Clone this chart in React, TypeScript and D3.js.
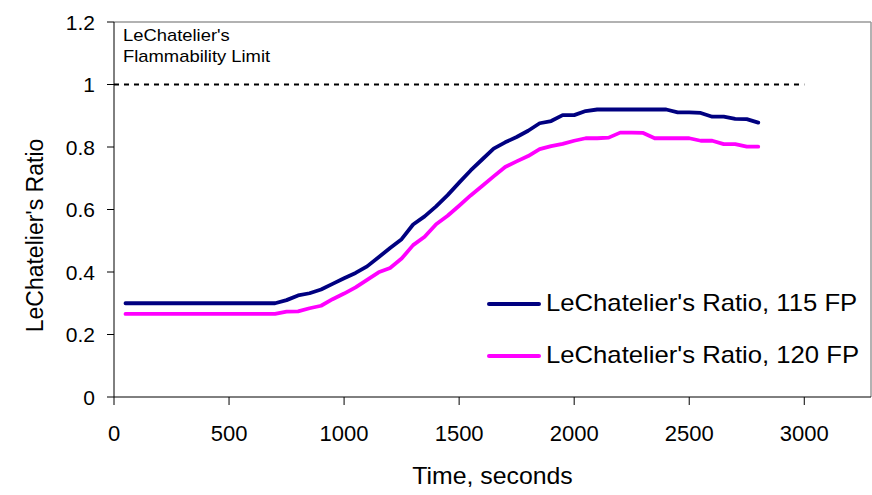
import React from 'react';
import * as d3 from 'd3';

// time in seconds, one reading every 50 s
const times = d3.range(50, 2801, 50);

// LeChatelier's ratio, 115 FP
const ratio115 = [
  0.30, 0.30, 0.30, 0.30, 0.30, 0.30, 0.30, 0.30, 0.30, 0.30, 0.30, 0.30, 0.30, 0.30,
  0.31, 0.325, 0.332, 0.344, 0.362, 0.38, 0.397, 0.418, 0.447, 0.477, 0.505, 0.552,
  0.578, 0.61, 0.646, 0.686, 0.725, 0.76, 0.795, 0.815, 0.832, 0.852, 0.876, 0.883,
  0.902, 0.902, 0.915, 0.92, 0.92, 0.92, 0.92, 0.92, 0.92, 0.92, 0.911, 0.911,
  0.909, 0.897, 0.897, 0.89, 0.889, 0.878,
];

// LeChatelier's ratio, 120 FP
const ratio120 = [
  0.266, 0.266, 0.266, 0.266, 0.266, 0.266, 0.266, 0.266, 0.266, 0.266, 0.266, 0.266, 0.266, 0.266,
  0.273, 0.274, 0.284, 0.292, 0.313, 0.331, 0.351, 0.375, 0.399, 0.413, 0.443, 0.486,
  0.513, 0.553, 0.58, 0.612, 0.645, 0.675, 0.706, 0.736, 0.754, 0.771, 0.793, 0.803,
  0.81, 0.82, 0.828, 0.828, 0.83, 0.846, 0.846, 0.845, 0.828, 0.828, 0.828, 0.828,
  0.82, 0.82, 0.809, 0.809, 0.801, 0.801,
];

const seriesNames = ["LeChatelier's Ratio, 115 FP", "LeChatelier's Ratio, 120 FP"];
const seriesColors = ['#000080', '#ff00ff'];

const limitX = [0, 3000];
const limitY = [1, 1];

const xTicks = [0, 500, 1000, 1500, 2000, 2500, 3000];
const yTicks = [0, 0.2, 0.4, 0.6, 0.8, 1, 1.2];

const W = 872;
const H = 495;
const left = 114;
const right = 871;
const top = 22;
const bottom = 397;
const font = "'Liberation Sans', Arial, sans-serif";

export default function App() {
  const x = d3.scaleLinear().domain([0, 3290]).range([left, right]);
  const y = d3.scaleLinear().domain([0, 1.2]).range([bottom, top]);

  const line = d3
    .line<[number, number]>()
    .x((d) => x(d[0]))
    .y((d) => y(d[1]));

  const series = [ratio115, ratio120].map((vals) =>
    times.map((t, i) => [t, vals[i]] as [number, number])
  );

  const limitLine = limitX.map((t, i) => [t, limitY[i]] as [number, number]);

  return (
    <svg
      width={W}
      height={H}
      style={{ position: 'absolute', left: 0, top: 0, background: '#fff' }}
      fontFamily={font}
    >
      <rect x={0} y={0} width={W} height={H} fill="#fff" />
      {/* plot frame */}
      <line x1={left} x2={right} y1={top} y2={top} stroke="#999" strokeWidth={1.5} />
      <line x1={right} x2={right} y1={top} y2={bottom} stroke="#999" strokeWidth={1.5} />

      {/* y axis */}
      <line x1={left} x2={left} y1={top} y2={bottom} stroke="#000" />
      {yTicks.map((v) => (
        <g key={v}>
          <line x1={left - 7} x2={left} y1={y(v)} y2={y(v)} stroke="#000" />
          <text
            x={95}
            y={y(v)}
            dy="0.36em"
            textAnchor="end"
            fontSize={21}
          >
            {d3.format('')(v)}
          </text>
        </g>
      ))}

      {/* x axis */}
      <line x1={left} x2={right} y1={bottom} y2={bottom} stroke="#000" />
      {xTicks.map((v) => (
        <g key={v}>
          <line x1={x(v)} x2={x(v)} y1={bottom} y2={bottom + 8} stroke="#000" />
          <text x={x(v)} y={441} textAnchor="middle" fontSize={22}>
            {v}
          </text>
        </g>
      ))}

      {/* axis titles */}
      <text
        x={(left + right) / 2}
        y={484}
        textAnchor="middle"
        fontSize={23}
        transform={`translate(${(left + right) / 2},0) scale(1.08,1) translate(${-(left + right) / 2},0)`}
      >
        Time, seconds
      </text>
      <text
        transform={`translate(43,${(top + bottom) / 2 + 26}) rotate(-90)`}
        textAnchor="middle"
        fontSize={23}
      >
        LeChatelier's Ratio
      </text>

      {/* flammability limit */}
      <path
        d={line(limitLine) || ''}
        fill="none"
        stroke="#000"
        strokeWidth={1.8}
        strokeDasharray="5,5"
      />
      <text x={123} y={41} fontSize={16} transform="translate(123,0) scale(1.15,1) translate(-123,0)">
        LeChatelier's
      </text>
      <text x={123} y={62} fontSize={16} transform="translate(123,0) scale(1.15,1) translate(-123,0)">
        Flammability Limit
      </text>

      {/* series */}
      {series.map((pts, i) => (
        <path
          key={i}
          d={line(pts) || ''}
          fill="none"
          stroke={seriesColors[i]}
          strokeWidth={3.8}
          strokeLinejoin="round"
          strokeLinecap="round"
        />
      ))}

      {/* legend */}
      {seriesNames.map((name, i) => (
        <g key={name} transform={`translate(0,${i * 52})`}>
          <line x1={489} x2={539} y1={304} y2={304} stroke={seriesColors[i]} strokeWidth={4} strokeLinecap="round" />
          <text
            x={546}
            y={311}
            fontSize={24}
            transform="translate(546,0) scale(1.07,1) translate(-546,0)"
          >
            {name}
          </text>
        </g>
      ))}
    </svg>
  );
}
